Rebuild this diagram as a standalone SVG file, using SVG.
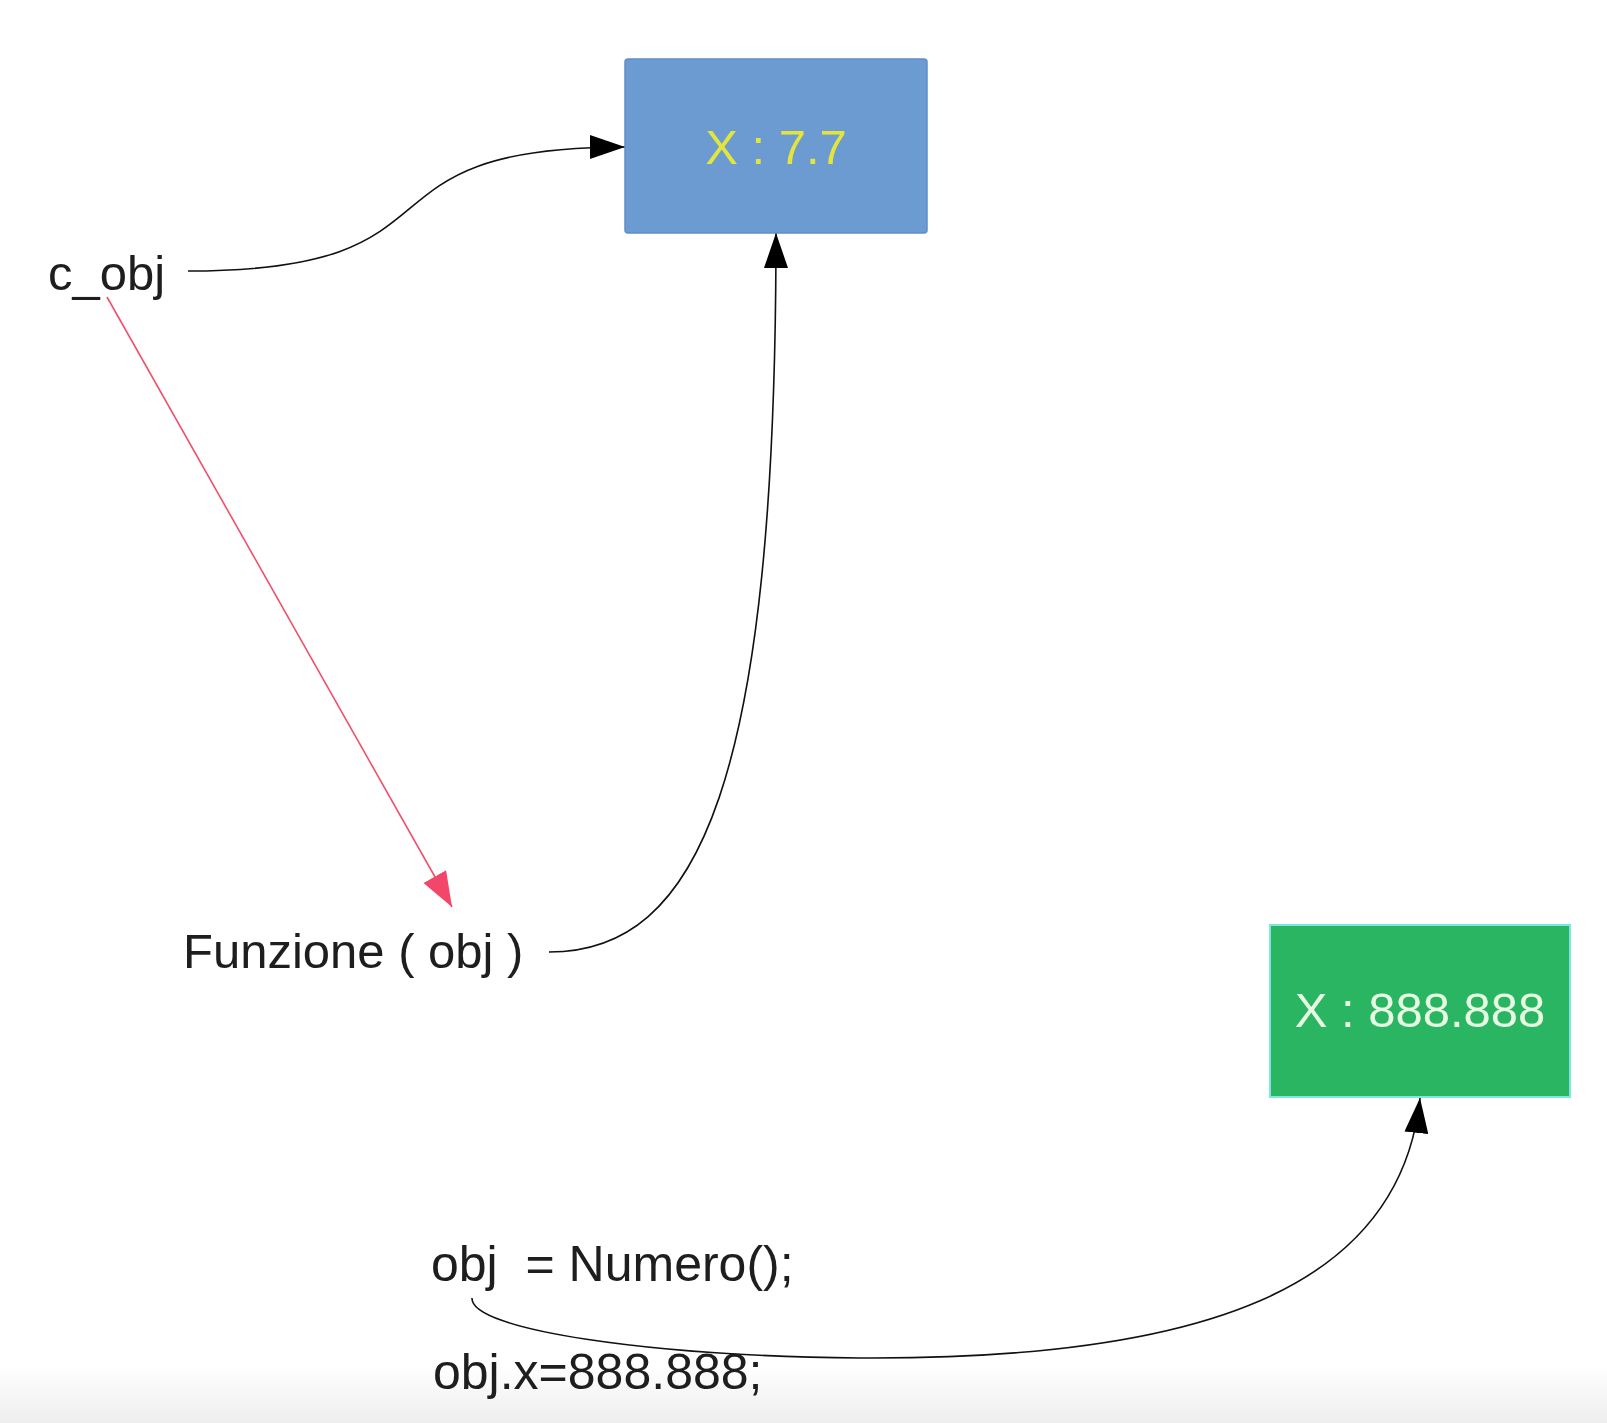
<svg xmlns="http://www.w3.org/2000/svg" width="1607" height="1423" viewBox="0 0 1607 1423">
<style>
.lbl{font-family:"Liberation Sans",Arial,sans-serif;font-size:49px;fill:#1e1e1e}
.lbl2{font-family:"Liberation Sans",Arial,sans-serif;font-size:50px;fill:#1e1e1e}
.box-text{font-family:"Liberation Sans",Arial,sans-serif;font-size:49px;text-anchor:middle}
.conn{fill:none;stroke:#111;stroke-width:1.6}
.conn-red{fill:none;stroke:#f0506e;stroke-width:1.6}
</style>
<defs>
<marker id="ah" markerUnits="userSpaceOnUse" markerWidth="36" markerHeight="24" refX="35" refY="12" orient="auto">
<path d="M0,0 L35,12 L0,24 Z" fill="#000"/>
</marker>
<marker id="ahr" markerUnits="userSpaceOnUse" markerWidth="36" markerHeight="26" refX="35" refY="13" orient="auto">
<path d="M0,0 L35,13 L0,26 Z" fill="#f2476a"/>
</marker>
<linearGradient id="bg" x1="0" y1="0" x2="0" y2="1">
<stop offset="0" stop-color="#ffffff"/>
<stop offset="1" stop-color="#eeeeee"/>
</linearGradient>
</defs>
<rect width="1607" height="1423" fill="#fff"/>
<rect x="0" y="1365" width="1607" height="58" fill="url(#bg)"/>

<g id="connectors">
<path class="conn" d="M188,271 C480,271 340,147 625,147" marker-end="url(#ah)"/>
<path class="conn-red" d="M107,297 L452,907" marker-end="url(#ahr)"/>
<path class="conn" d="M549,952 C700,952 776,780 776,233" marker-end="url(#ah)"/>
<path class="conn" d="M472,1298 C470,1330 650,1356 860,1358 C1200,1360 1400,1290 1420,1098" marker-end="url(#ah)"/>
</g>

<g id="box-blue">
<rect x="625" y="59" width="302" height="174" rx="3" fill="#6b9bd1" stroke="#5f8fc8" stroke-width="1.5"/>
<text class="box-text" x="776" y="164" fill="#e4e43e">X : 7.7</text>
</g>

<g id="box-green">
<rect x="1270" y="925" width="300" height="172" fill="#2ab562" stroke="#7ee8e0" stroke-width="2"/>
<text class="box-text" x="1420" y="1027" fill="#e6fbe2">X : 888.888</text>
</g>

<g id="c_obj">
<text class="lbl" x="48" y="290">c_obj</text>
</g>

<g id="funzione">
<text class="lbl" x="183" y="968">Funzione ( obj )</text>
</g>

<g id="obj-assign">
<text class="lbl2" x="431" y="1281" xml:space="preserve">obj  = Numero();</text>
</g>

<g id="obj-x">
<text class="lbl2" x="433" y="1389">obj.x=888.888;</text>
</g>
</svg>
